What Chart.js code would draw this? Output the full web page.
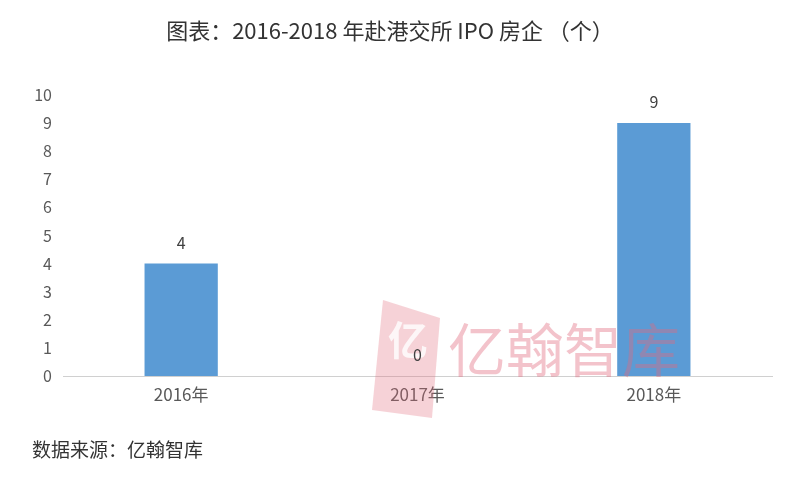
<!DOCTYPE html>
<html>
<head>
<meta charset="utf-8">
<script src="https://cdn.jsdelivr.net/npm/chart.js@4"></script>
<style>
  html, body { margin: 0; padding: 0; background: #fff; }
  #wrap { width: 800px; height: 481px; }
</style>
</head>
<body>
<div id="wrap"><canvas id="chart" width="800" height="481"></canvas></div>
<script>
// datos del gráfico
const years = ['2016年', '2017年', '2018年'];
const ipoCount = [4, 0, 9];
const yTicks = [0, 1, 2, 3, 4, 5, 6, 7, 8, 9, 10];

const chartTitle = '图表：2016-2018 年赴港交所 IPO 房企 （个）';
const sourceText = '数据来源：亿翰智库';
const watermark = '亿翰智库';

const FONT = '"Noto Sans CJK SC", "Microsoft YaHei", sans-serif';

// titulo, fuente, marca de agua y etiquetas de valor
const extrasPlugin = {
    id: 'extras',
    afterDatasetsDraw(chart) {
        const ctx = chart.ctx;
        ctx.save();
        // marca de agua (logo + texto), encima de las barras como en la imagen
        ctx.globalAlpha = 0.3;
        ctx.fillStyle = '#e06a7c';
        ctx.beginPath();
        ctx.moveTo(383, 300);
        ctx.lineTo(440, 318);
        ctx.lineTo(432, 418);
        ctx.lineTo(372, 410);
        ctx.closePath();
        ctx.fill();
        ctx.globalAlpha = 0.8;
        ctx.fillStyle = '#fff';
        ctx.font = 'bold 40px ' + FONT;
        ctx.textAlign = 'center';
        ctx.textBaseline = 'middle';
        ctx.fillText('亿', 408, 340);
        ctx.globalAlpha = 0.4;
        ctx.fillStyle = '#e06a7c';
        ctx.font = '58px ' + FONT;
        ctx.textAlign = 'left';
        ctx.fillText(watermark, 448, 350);
        ctx.restore();

        ctx.save();
        ctx.fillStyle = '#404040';
        ctx.font = '16px ' + FONT;
        ctx.textAlign = 'center';
        ctx.textBaseline = 'bottom';
        chart.getDatasetMeta(0).data.forEach((bar, i) => {
            ctx.fillText(String(ipoCount[i]), bar.x, bar.y - 13);
        });

        ctx.fillStyle = '#333';
        ctx.font = '22px ' + FONT;
        ctx.textBaseline = 'middle';
        ctx.fillText(chartTitle, 390, 31);

        ctx.textAlign = 'left';
        ctx.font = '19px ' + FONT;
        ctx.fillText(sourceText, 32, 450);
        ctx.restore();
    }
};

new Chart(document.getElementById('chart'), {
    type: 'bar',
    data: {
        labels: years,
        datasets: [{
            data: ipoCount,
            backgroundColor: '#5b9bd5',
            categoryPercentage: 1,
            barPercentage: 0.31
        }]
    },
    options: {
        responsive: false,
        animation: false,
        layout: { padding: { top: 95, right: 28, left: 0, bottom: 0 } },
        plugins: {
            legend: { display: false },
            tooltip: { enabled: false }
        },
        scales: {
            x: {
                grid: { display: false, drawTicks: false },
                border: { color: '#d0d0d0', width: 1 },
                ticks: { color: '#595959', font: { size: 17, family: FONT }, padding: 8 },
                afterFit: s => { s.height = 105; }
            },
            y: {
                min: 0,
                max: 10,
                afterBuildTicks: s => { s.ticks = yTicks.map(v => ({ value: v })); },
                grid: { display: false, drawTicks: false },
                border: { display: false },
                ticks: { color: '#595959', font: { size: 16, family: FONT }, padding: 11 },
                afterFit: s => { s.width = 63; }
            }
        }
    },
    plugins: [extrasPlugin]
});
</script>
</body>
</html>
